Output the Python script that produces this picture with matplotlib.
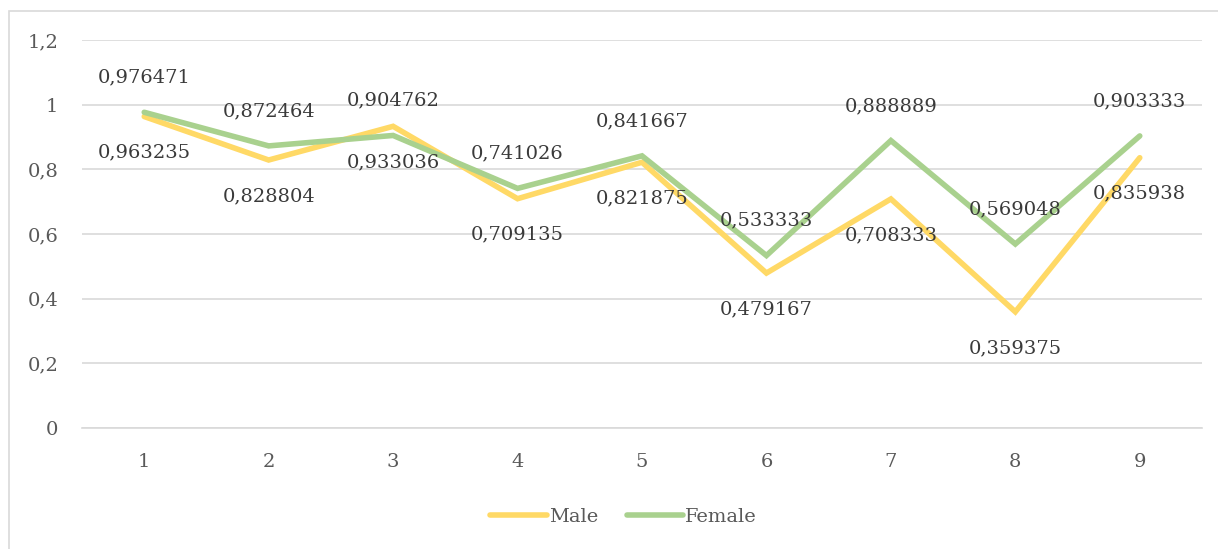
import matplotlib
matplotlib.use("Agg")
import matplotlib.pyplot as plt
from matplotlib.patches import Rectangle
from matplotlib.ticker import FuncFormatter

categories = [1, 2, 3, 4, 5, 6, 7, 8, 9]
male = [0.963235, 0.828804, 0.933036, 0.709135, 0.821875, 0.479167, 0.708333, 0.359375, 0.835938]
female = [0.976471, 0.872464, 0.904762, 0.741026, 0.841667, 0.533333, 0.888889, 0.569048, 0.903333]
y_ticks = [0, 0.2, 0.4, 0.6, 0.8, 1.0, 1.2]

MALE_COLOR = "#FFD966"
FEMALE_COLOR = "#A9D18E"
GRID_COLOR = "#D9D9D9"
FONT = "DejaVu Serif"
FS = 14


def comma(v, pos=None):
    return format(round(v, 6), "g").replace(".", ",")


fig = plt.figure(figsize=(12.18, 5.49), dpi=100)
ax = fig.add_axes([82 / 1218, 1 - 428 / 549, (1202 - 82) / 1218, (428 - 40) / 549])

# chart border (cut off at right and bottom in the reference)
fig.patches.append(Rectangle((9 / 1218, -0.1), 1.2, 1 - 11 / 549 + 0.1,
                             transform=fig.transFigure, fill=False,
                             edgecolor=GRID_COLOR, linewidth=1.2))

ax.plot(categories, male, color=MALE_COLOR, linewidth=4, label="Male",
        solid_capstyle="round", solid_joinstyle="miter", zorder=3)
ax.plot(categories, female, color=FEMALE_COLOR, linewidth=4, label="Female",
        solid_capstyle="round", solid_joinstyle="miter", zorder=4)

for x, v in zip(categories, female):
    ax.annotate(comma(v), (x, v), xytext=(0, 25), textcoords="offset points",
                ha="center", va="center", fontsize=FS, family=FONT,
                color="#3A3A3A", zorder=5)
for x, v in zip(categories, male):
    ax.annotate(comma(v), (x, v), xytext=(0, -26), textcoords="offset points",
                ha="center", va="center", fontsize=FS, family=FONT,
                color="#3A3A3A", zorder=5)

ax.set_xlim(0.5, 9.5)
ax.set_ylim(0, 1.2)
ax.set_xticks(categories)
ax.set_yticks(y_ticks)
ax.yaxis.set_major_formatter(FuncFormatter(comma))
ax.grid(axis="y", color=GRID_COLOR, linewidth=1.2)
ax.set_axisbelow(True)
for s in ax.spines.values():
    s.set_visible(False)
ax.spines["bottom"].set_visible(True)
ax.spines["bottom"].set_color(GRID_COLOR)
ax.spines["bottom"].set_linewidth(1.2)
ax.tick_params(length=0, labelsize=FS, labelcolor="#595959")
ax.tick_params(axis="y", pad=17)
ax.tick_params(axis="x", pad=18)
for lbl in ax.get_xticklabels() + ax.get_yticklabels():
    lbl.set_family(FONT)

leg = fig.legend(loc="center", bbox_to_anchor=(0.512, 0.058), ncol=2,
                 frameon=False, handlelength=2.9, handletextpad=0.1,
                 columnspacing=1.5, prop={"family": FONT, "size": FS})
for t in leg.get_texts():
    t.set_color("#595959")

fig.savefig("out.png", dpi=100)
